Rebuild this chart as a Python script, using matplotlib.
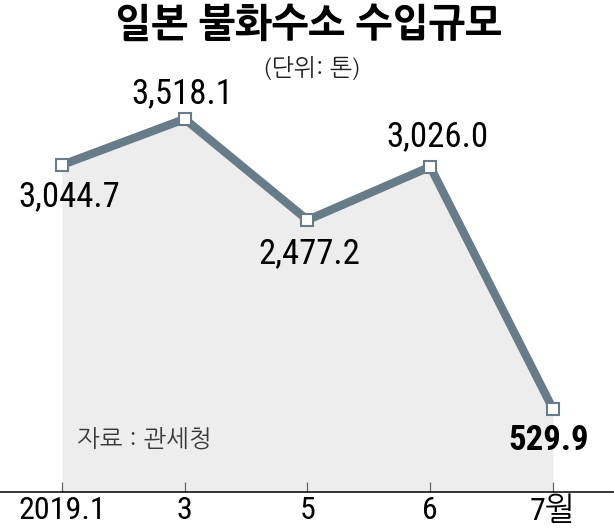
import matplotlib
matplotlib.use("Agg")
import matplotlib.pyplot as plt
from matplotlib import font_manager

# ---- data ----
categories = ["2019.1", "3", "5", "6", "7월"]
values = [3044.7, 3518.1, 2477.2, 3026.0, 529.9]
value_labels = ["3,044.7", "3,518.1", "2,477.2", "3,026.0", "529.9"]
title = "일본 불화수소 수입규모"
unit = "(단위: 톤)"
source = "자료 : 관세청"

avail = {f.name for f in font_manager.fontManager.ttflist}
def pick(cands):
    return [c for c in cands if c in avail] + ["DejaVu Sans"]

num_font = pick(["Roboto Condensed", "Liberation Sans", "NanumGothic", "Noto Sans CJK KR"])
kr_font = pick(["NanumGothic", "Noto Sans CJK KR"])

W, H = 614, 531
fig = plt.figure(figsize=(W / 100, H / 100), dpi=100)
fig.patch.set_facecolor("white")

base_px = 492
ax = fig.add_axes([0, (H - base_px) / H, 1, base_px / H])
ax.set_facecolor("white")

x = list(range(len(values)))
line_color = "#687b89"
ymin, ymax = -325, 4744
ax.set_xlim(-0.505, 4.497)
ax.set_ylim(ymin, ymax)

ax.fill_between(x, values, ymin, color="#ededed", lw=0, zorder=1)
ax.plot(x, values, color=line_color, lw=6, solid_joinstyle="miter", zorder=2)
ax.plot(x, values, ls="none", marker="s", ms=8.5, mfc="white", mec=line_color, mew=1.5, zorder=3)

offsets = [(7, -32), (-2, 25), (2, -34), (7, 30), (-4, -31)]
weights = ["normal", "normal", "normal", "normal", 600]
for xi, v, lab, off, wt in zip(x, values, value_labels, offsets, weights):
    ax.annotate(lab, (xi, v), xytext=off, textcoords="offset pixels",
                ha="center", va="center", fontsize=25, family=num_font,
                fontweight=wt, color="black", zorder=4)

for s in ["top", "left", "right"]:
    ax.spines[s].set_visible(False)
ax.spines["bottom"].set_color("black")
ax.spines["bottom"].set_linewidth(1.1)
ax.set_yticks([])
ax.set_xticks(x)
ax.set_xticklabels(categories, family=num_font, fontsize=23)
ax.tick_params(axis="x", direction="in", length=7.2, width=0.9, color="#666666", pad=3)

fig.text(308 / W, 1 - 23 / H, title, ha="center", va="center", fontsize=28,
         fontweight=800, family=kr_font, color="black")
fig.text(312 / W, 1 - 68 / H, unit, ha="center", va="center", fontsize=17,
         family=kr_font, color="#222222")
fig.text(77 / W, 1 - 439 / H, source, ha="left", va="center", fontsize=17.5,
         family=kr_font, color="#3a3a3a")

fig.savefig("out.png", dpi=100, facecolor="white")
